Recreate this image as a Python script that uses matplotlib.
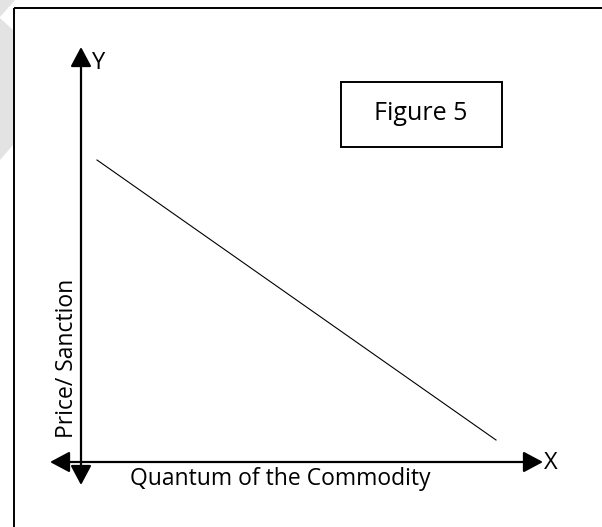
import matplotlib.pyplot as plt
from matplotlib.patches import Rectangle, Polygon

# schematic demand curve, in pixel-like units of the drawing
line_x = [97, 496]
line_y = [160, 440]

origin = (81, 462)
y_axis_top = 47
y_axis_bottom = 485
x_axis_left = 50
x_axis_right = 543

x_label = 'Quantum of the Commodity'
y_label = 'Price/ Sanction'
box_text = 'Figure 5'

font = 'Open Sans'

fig = plt.figure(figsize=(6.02, 5.27), dpi=100)
ax = fig.add_axes([0, 0, 1, 1])
ax.set_xlim(0, 602)
ax.set_ylim(527, 0)
ax.axis('off')

# faint watermark shapes on the left edge
ax.add_patch(Polygon([(0, 0), (15, 0), (0, 17)], closed=True, color='#e3e3e3', lw=0))
ax.add_patch(Polygon([(0, 18), (13, 30), (13, 145), (0, 160)], closed=True, color='#e3e3e3', lw=0))

# outer frame (runs off the right and bottom)
ax.add_patch(Rectangle((14, 8), 620, 560, fill=False, ec='black', lw=1.4))

arrow = dict(arrowstyle='<|-|>,head_length=0.6,head_width=0.32', color='black',
             lw=1.6, mutation_scale=20, shrinkA=0, shrinkB=0)
ax.annotate('', xy=(origin[0], y_axis_top), xytext=(origin[0], y_axis_bottom), arrowprops=arrow)
ax.annotate('', xy=(x_axis_right, origin[1]), xytext=(x_axis_left, origin[1]), arrowprops=arrow)

ax.text(92, 63, 'Y', fontsize=17, family=font, va='center', ha='left')
ax.text(544, 463, 'X', fontsize=17, family=font, va='center', ha='left')

ax.plot(line_x, line_y, color='black', lw=0.8)

ax.text(280, 479, x_label, fontsize=16.5, family=font, ha='center', va='center')
ax.text(67, 358, y_label, fontsize=16.5, family=font, ha='center', va='center', rotation=90)

ax.add_patch(Rectangle((341, 82), 161, 65, fill=False, ec='black', lw=1.4))
ax.text(421, 114, box_text, fontsize=18, family=font, ha='center', va='center')

fig.savefig('out.png', dpi=100)
